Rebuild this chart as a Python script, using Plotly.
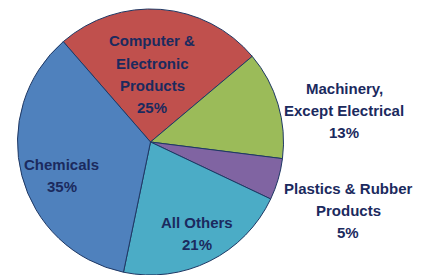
import plotly.graph_objects as go

categories = ["Computer &<br>Electronic<br>Products", "Machinery,<br>Except Electrical",
              "Plastics & Rubber<br>Products", "All Others", "Chemicals"]
shares = [25, 13, 5, 21, 35]
colors = ["#C0504D", "#9BBB59", "#8064A2", "#4BACC6", "#4F81BD"]
# label block position: centre x, first-line y (pixels from top-left)
label_px = [(152, 41), (344, 88), (348, 188), (197, 222), (62, 164)]
LINE = 22

W, H = 422, 275
fig = go.Figure(go.Pie(
    labels=categories, values=shares, sort=False, direction="clockwise",
    rotation=-41, marker=dict(colors=colors, line=dict(color="#1F3864", width=1)),
    textinfo="none", hoverinfo="label+percent", showlegend=False,
    domain=dict(x=[17.5/W, 283.5/W], y=[0, 1-9/H]),
))

anns = []
for lab, v, (px, py) in zip(categories, shares, label_px):
    lines = lab.split("<br>") + [f"{v}%"]
    for i, t in enumerate(lines):
        anns.append(dict(text=t, x=px/W, y=1-(py+i*LINE)/H, xref="paper", yref="paper",
                         xanchor="center", yanchor="middle", showarrow=False,
                         font=dict(family="Liberation Sans, Arial", size=15, weight="bold",
                                   color="#1B2A5E")))
fig.update_layout(width=W, height=H, margin=dict(l=0, r=0, t=0, b=0),
                  paper_bgcolor="white", plot_bgcolor="white", annotations=anns)
fig.write_html("out.html", post_script="document.body.style.margin='0';",
               config={"displayModeBar": False})
